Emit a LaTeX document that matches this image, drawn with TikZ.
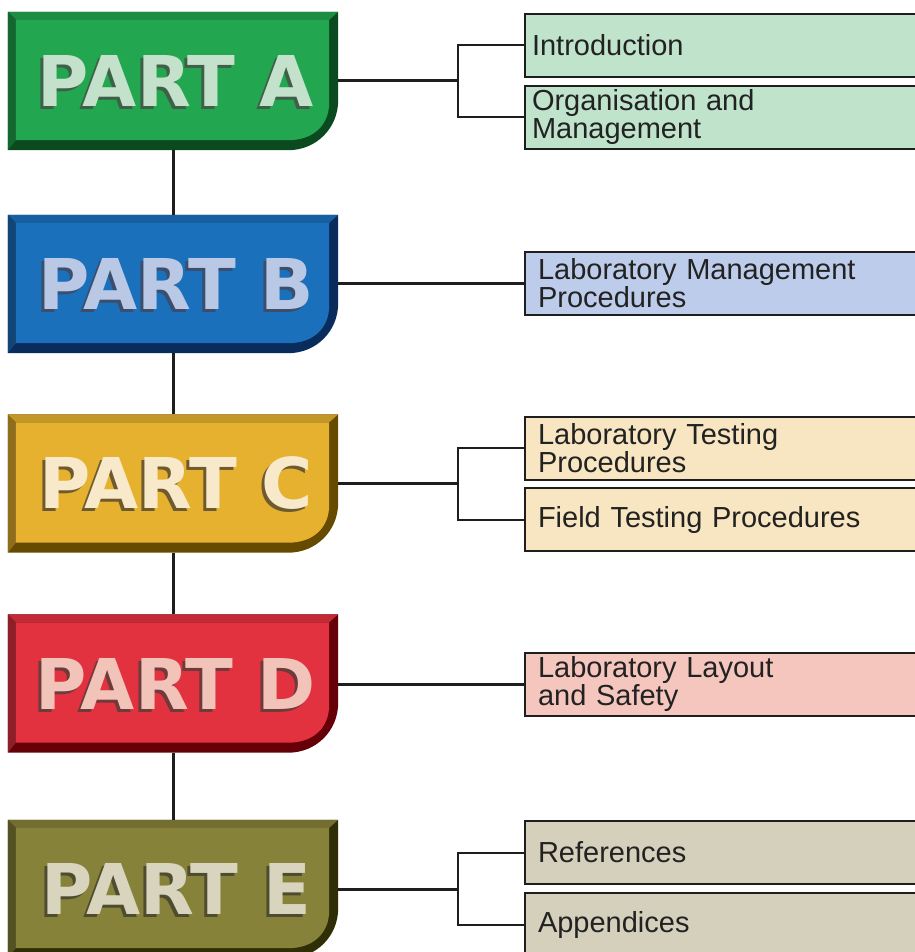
\documentclass[tikz,border=0pt]{standalone}
\usepackage{fontspec}
\usepackage{graphicx}
\setmainfont{Liberation Sans}
\newfontfamily\partfont{DejaVu Sans}
\usetikzlibrary{calc}

% part colours: face, edge, lettering, letter shadow, topic box fill
\definecolor{Aface}{HTML}{22A650}\definecolor{Aedge}{HTML}{0B4A1E}
\definecolor{Atext}{HTML}{C4E2CB}\definecolor{Ash}{HTML}{3F5F48}\definecolor{Abox}{HTML}{C0E3CC}
\definecolor{Bface}{HTML}{1B70BC}\definecolor{Bedge}{HTML}{0A2C5C}
\definecolor{Btext}{HTML}{B9C8E4}\definecolor{Bsh}{HTML}{3B4E6E}\definecolor{Bbox}{HTML}{BCCCEA}
\definecolor{Cface}{HTML}{E5B12F}\definecolor{Cedge}{HTML}{664A00}
\definecolor{Ctext}{HTML}{F7E9CA}\definecolor{Csh}{HTML}{6E5A2E}\definecolor{Cbox}{HTML}{F8E5C1}
\definecolor{Dface}{HTML}{E2323F}\definecolor{Dedge}{HTML}{650008}
\definecolor{Dtext}{HTML}{F2C3B8}\definecolor{Dsh}{HTML}{6E3A3A}\definecolor{Dbox}{HTML}{F5C6BD}
\definecolor{Eface}{HTML}{878239}\definecolor{Eedge}{HTML}{302E07}
\definecolor{Etext}{HTML}{D8D4BE}\definecolor{Esh}{HTML}{4E4C30}\definecolor{Ebox}{HTML}{D5D0BB}
\definecolor{linecol}{HTML}{1E1E1E}
\definecolor{topictext}{HTML}{222222}

\pgfdeclarelayer{bg}
\pgfsetlayers{bg,main}

% embossed lettering: shadow copy offset down-left, face copy on top
\newcommand{\partword}[3]{\hspace*{6pt}\rlap{\kern-3pt\raisebox{-3pt}[0pt][0pt]{\color{#3}#1}}{\color{#2}#1}}

% bevelled tab behind a part node: #1 node, #2 face colour, #3 edge colour
\newcommand{\partbox}[3]{%
  \begin{pgfonlayer}{bg}
    \fill[#3] (#1.north west) -- (#1.north east)
      -- ($(#1.south east)+(0,-50)$)
      .. controls ($(#1.south east)+(0,-22)$) and ($(#1.south east)+(-22,0)$) ..
      ($(#1.south east)+(-50,0)$) -- (#1.south west) -- cycle;
    \fill[#2!85!black] (#1.north west) -- (#1.north east)
      -- ($(#1.north east)+(-9,8)$) -- ($(#1.north west)+(8,8)$) -- cycle;
    \fill[#2!62!black] (#1.north west) -- ($(#1.north west)+(8,8)$)
      -- ($(#1.south west)+(8,-10)$) -- (#1.south west) -- cycle;
    \fill[#2] ($(#1.north west)+(8,8)$) -- ($(#1.north east)+(-9,8)$)
      -- ($(#1.south east)+(-9,-48)$)
      .. controls ($(#1.south east)+(-9,-24)$) and ($(#1.south east)+(-26,-10)$) ..
      ($(#1.south east)+(-50,-10)$) -- ($(#1.south west)+(8,-10)$) -- cycle;
  \end{pgfonlayer}}

\tikzset{
  partnode/.style={minimum width=330pt, minimum height=138pt, inner sep=0pt,
    font=\partfont\bfseries\fontsize{70}{70}\selectfont},
  topic/.style={draw=linecol, line width=2pt, anchor=west, minimum width=395pt,
    minimum height=63pt, inner ysep=0pt, inner xsep=13pt, text width=369pt,
    align=left, text=topictext, font=\fontsize{29}{28}\selectfont},
  topicA/.style={topic, inner xsep=7pt, text width=381pt},
  trunk/.style={draw=linecol, line width=3pt},
  branch/.style={draw=linecol, line width=2pt},
}

\begin{document}
\begin{tikzpicture}[x=1pt, y=-1pt]
\useasboundingbox (0,0) rectangle (914,952);

% part tabs
\node[partnode] (pA) at (173,81)    {\partword{PART A}{Atext}{Ash}};
\node[partnode] (pB) at (173,284)   {\partword{PART B}{Btext}{Bsh}};
\node[partnode] (pC) at (173,483.5) {\partword{PART C}{Ctext}{Csh}};
\node[partnode] (pD) at (173,683.5) {\partword{PART D}{Dtext}{Dsh}};
\node[partnode] (pE) at (173,889)   {\partword{PART E}{Etext}{Esh}};
\partbox{pA}{Aface}{Aedge}
\partbox{pB}{Bface}{Bedge}
\partbox{pC}{Cface}{Cedge}
\partbox{pD}{Dface}{Dedge}
\partbox{pE}{Eface}{Eedge}

% topic boxes
\node[topicA, fill=Abox] (intro) at (524,45.5)  {Introduction};
\node[topicA, fill=Abox] (org)   at (524,117.5) {Organisation and\\Management};
\node[topic, fill=Bbox]  (lm)    at (524,283)   {Laboratory Management\\Procedures};
\node[topic, fill=Cbox]  (lt)    at (524,448)   {Laboratory Testing\\Procedures};
\node[topic, fill=Cbox]  (ft)    at (524,519.5) {Field Testing Procedures};
\node[topic, fill=Dbox]  (ll)    at (524,684)   {Laboratory Layout\\and Safety};
\node[topic, fill=Ebox]  (refs)  at (524,852.5) {References};
\node[topic, fill=Ebox]  (app)   at (524,924.5) {Appendices};

% junctions of the brackets
\coordinate (jA) at (458,81);
\coordinate (jC) at (458,483.5);
\coordinate (jE) at (458,889);

% spine between the parts
\draw[trunk] (pA.south) -- (pB.north);
\draw[trunk] (pB.south) -- (pC.north);
\draw[trunk] (pC.south) -- (pD.north);
\draw[trunk] (pD.south) -- (pE.north);

% links from parts to topics
\draw[trunk] (pA.east) -- (jA);
\draw[branch] (intro.west) -| (jA) |- (org.west);
\draw[trunk] (lm.west -| pB.east) -- (lm.west);
\draw[trunk] (pC.east) -- (jC);
\draw[branch] (lt.west) -| (jC) |- (ft.west);
\draw[trunk] (ll.west -| pD.east) -- (ll.west);
\draw[trunk] (pE.east) -- (jE);
\draw[branch] (refs.west) -| (jE) |- (app.west);
\end{tikzpicture}
\end{document}
